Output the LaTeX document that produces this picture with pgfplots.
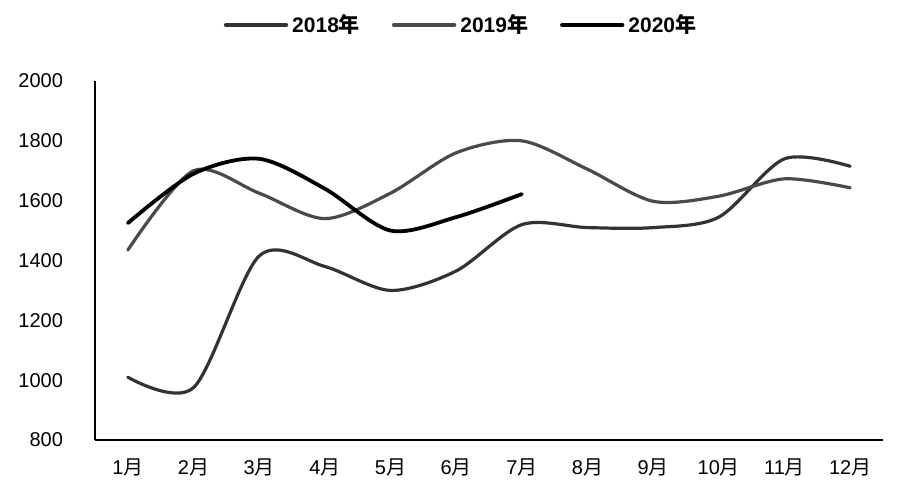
\documentclass[border=0pt]{standalone}
\usepackage{fontspec}
\setmainfont{Liberation Sans}
\newfontfamily\cjk{Noto Sans CJK SC}
\usepackage{pgfplots}
\pgfplotsset{compat=1.18}
\newcommand\yue{{\cjk 月}}
\newcommand\nian{{\cjk 年}}
\definecolor{c2018}{HTML}{333333}
\definecolor{c2019}{HTML}{4A4A4A}
\definecolor{c2020}{HTML}{000000}
\begin{document}
\begin{tikzpicture}
\useasboundingbox (-47.5pt,-30pt) rectangle (402.5pt,220pt);
\begin{axis}[
  at={(0,0)}, anchor=south west,
  scale only axis, width=394pt, height=179.5pt,
  xmin=0.5, xmax=12.5, ymin=800, ymax=2000,
  axis x line=bottom, axis y line=left,
  axis line style={line width=1.1pt, -},
  xtick={1,...,12},
  xticklabels={1\yue,2\yue,3\yue,4\yue,5\yue,6\yue,7\yue,8\yue,9\yue,10\yue,11\yue,12\yue},
  ytick={800,1000,...,2000},
  major tick length=0pt,
  /pgf/number format/assume math mode=true,
  /pgf/number format/1000 sep={},
  tick label style={font=\fontsize{10}{12}\selectfont},
  yticklabel style={xshift=-12.5pt},
  xticklabel style={yshift=-6pt},
  legend style={draw=none, at={(183.5pt,207.5pt)}, anchor=center, legend columns=3,
    font=\fontsize{10.5}{12}\selectfont\bfseries, inner sep=0pt,
    /tikz/every even column/.append style={column sep=14pt}},
  legend cell align=left,
  legend image code/.code={\draw[#1, line width=2.2pt] (0pt,0pt) -- (30pt,0pt);},
  every axis plot/.append style={smooth, tension=0.5, line cap=round},
  clip=false,
]
\addplot[c2018, line width=1.6pt] coordinates {
(1,1010) (2,975) (3,1415) (4,1380) (5,1300) (6,1365) (7,1520) (8,1510) (9,1510) (10,1545) (11,1740) (12,1715)};
\addlegendentry{2018\nian}
\addplot[c2019, line width=1.6pt] coordinates {
(1,1435) (2,1700) (3,1625) (4,1540) (5,1625) (6,1760) (7,1800) (8,1705) (9,1598) (10,1615) (11,1673) (12,1643)};
\addlegendentry{2019\nian}
\addplot[c2020, line width=1.9pt] coordinates {
(1,1525) (2,1690) (3,1740) (4,1640) (5,1500) (6,1545) (7,1622)};
\addlegendentry{2020\nian}
\end{axis}
\end{tikzpicture}
\end{document}
